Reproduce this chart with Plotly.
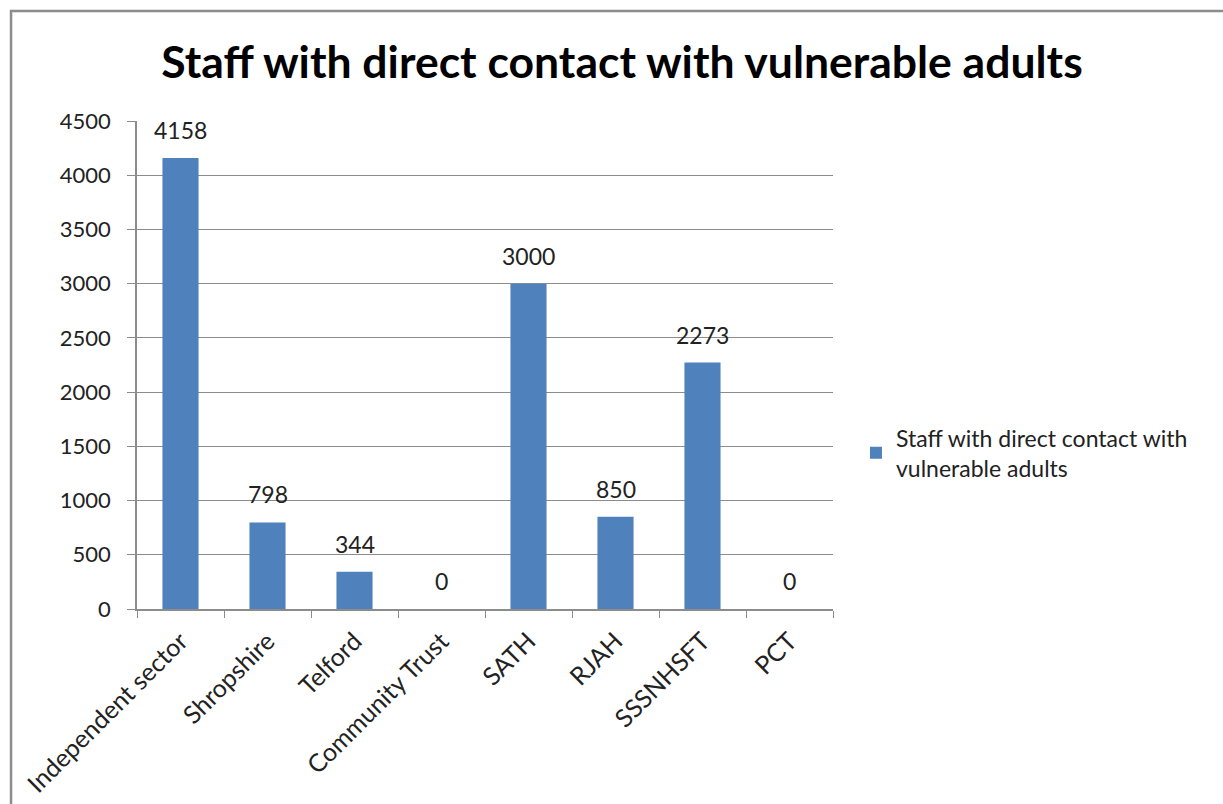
import plotly.graph_objects as go

categories = ["Independent sector", "Shropshire", "Telford", "Community Trust",
              "SATH", "RJAH", "SSSNHSFT", "PCT"]
staff_counts = [4158, 798, 344, 0, 3000, 850, 2273, 0]
series_name = "Staff with direct contact with vulnerable adults"
y_ticks = [0, 500, 1000, 1500, 2000, 2500, 3000, 3500, 4000, 4500]

FONT = "Lato, Calibri, Arial, sans-serif"
TEXT = "#222222"
BAR = "#4F81BD"
GRID = "#8C8C8C"

fig = go.Figure()
fig.add_trace(go.Bar(
    x=categories,
    y=staff_counts,
    name="Staff with direct contact with<br>vulnerable adults",
    marker=dict(color=BAR, line=dict(width=0)),
    showlegend=True,
))

# value labels sitting above each bar
annotations = [
    dict(x=c, y=v, xref="x", yref="y", text=str(v), showarrow=False,
         yanchor="bottom", xanchor="center", yshift=12,
         font=dict(family=FONT, size=23, color=TEXT))
    for c, v in zip(categories, staff_counts)
]

fig.update_layout(
    width=1223, height=804,
    margin=dict(l=137, r=390, t=121, b=195),
    paper_bgcolor="white", plot_bgcolor="white",
    bargap=0.585,
    title=dict(text="<b>" + series_name + "</b>", x=0.5086, xref="container",
               xanchor="center", y=0.922, yanchor="middle",
               font=dict(family=FONT, size=44.5, color="black")),
    font=dict(family=FONT, size=22, color=TEXT),
    showlegend=True,
    legend=dict(x=1.033, y=0.32, xanchor="left", yanchor="middle",
                font=dict(family=FONT, size=23, color=TEXT),
                itemsizing="constant", bgcolor="rgba(0,0,0,0)"),
    annotations=annotations,
    xaxis=dict(
        type="category", tickangle=-45, tickson="boundaries",
        ticks="outside", ticklen=7, tickcolor=GRID,
        showline=True, linecolor=GRID, linewidth=1.5,
        showgrid=False, ticklabelstandoff=6, automargin=False,
        tickfont=dict(family=FONT, size=25, color=TEXT),
    ),
    yaxis=dict(
        range=[0, 4500], tickvals=y_ticks,
        ticks="outside", ticklen=8, tickcolor=GRID,
        showline=True, linecolor=GRID, linewidth=1.5,
        showgrid=True, gridcolor=GRID, gridwidth=1,
        zeroline=False, ticklabelstandoff=12, automargin=False,
        tickfont=dict(family=FONT, size=22, color=TEXT),
    ),
    shapes=[dict(type="rect", xref="paper", yref="paper",
                 x0=-0.181, x1=1.7, y0=-0.6, y1=1.2254,
                 line=dict(color="#8C8C8C", width=2.5), layer="below")],
)

fig.write_html("out.html")
